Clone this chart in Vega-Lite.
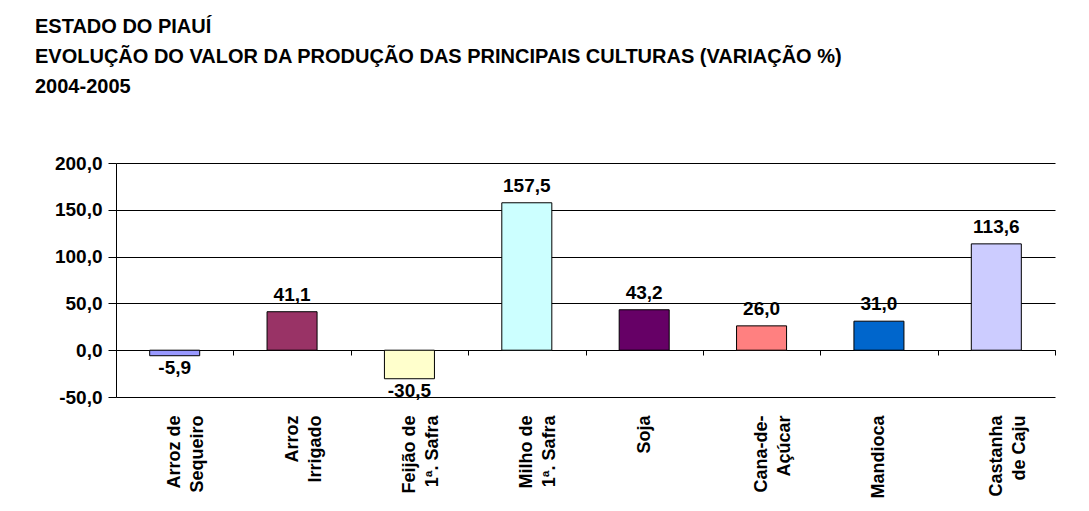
{
  "$schema": "https://vega.github.io/schema/vega-lite/v6.json",
  "width": 939,
  "height": 234,
  "autosize": {"type": "none"},
  "padding": {"left": 116, "top": 163, "right": 34, "bottom": 114},
  "background": "white",
  "title": {
    "text": ["ESTADO DO PIAUÍ", "EVOLUÇÃO DO VALOR DA PRODUÇÃO DAS PRINCIPAIS CULTURAS (VARIAÇÃO %)", "2004-2005"],
    "anchor": "start",
    "frame": "group",
    "dx": -81,
    "offset": 57,
    "fontSize": 20,
    "font": "Liberation Sans",
    "fontWeight": "bold",
    "lineHeight": 30,
    "color": "black"
  },
  "data": {
    "values": [
      {"cultura": "Arroz de|Sequeiro", "v": -5.9},
      {"cultura": "Arroz|Irrigado", "v": 41.1},
      {"cultura": "Feijão de|1ª. Safra", "v": -30.5},
      {"cultura": "Milho de|1ª. Safra", "v": 157.5},
      {"cultura": "Soja", "v": 43.2},
      {"cultura": "Cana-de-|Açúcar", "v": 26.0},
      {"cultura": "Mandioca", "v": 31.0},
      {"cultura": "Castanha|de Caju", "v": 113.6}
    ]
  },
  "encoding": {
    "x": {
      "field": "cultura",
      "type": "nominal",
      "sort": null,
      "scale": {"paddingInner": 0, "paddingOuter": 0},
      "axis": {
        "title": null,
        "orient": "bottom",
        "offset": -47,
        "tickBand": "extent",
        "tickSize": 5,
        "tickColor": "black",
        "domainColor": "black",
        "labelAngle": -90,
        "labelPadding": 60,
        "labelExpr": "split(datum.label, '|')",
        "labelFont": "Liberation Sans",
        "labelFontWeight": "bold",
        "labelFontSize": 18,
        "labelLineHeight": 23,
        "labelColor": "black",
        "grid": false
      }
    },
    "y": {
      "field": "v",
      "type": "quantitative",
      "scale": {"domain": [-50, 200], "nice": false, "zero": false},
      "axis": {
        "title": null,
        "values": [-50, 0, 50, 100, 150, 200],
        "format": ".1f",
        "grid": true,
        "gridColor": "black",
        "gridOpacity": 1,
        "gridWidth": 1,
        "domainColor": "black",
        "tickColor": "black",
        "tickSize": 8,
        "labelPadding": 6,
        "labelFont": "Liberation Sans",
        "labelFontWeight": "bold",
        "labelFontSize": 19,
        "labelColor": "black"
      }
    }
  },
  "layer": [
    {
      "mark": {"type": "bar", "width": {"band": 0.426}, "stroke": "black", "strokeWidth": 1},
      "encoding": {
        "color": {
          "field": "cultura",
          "type": "nominal",
          "legend": null,
          "scale": {
            "domain": ["Arroz de|Sequeiro", "Arroz|Irrigado", "Feijão de|1ª. Safra", "Milho de|1ª. Safra", "Soja", "Cana-de-|Açúcar", "Mandioca", "Castanha|de Caju"],
            "range": ["#9999FF", "#993366", "#FFFFCC", "#CCFFFF", "#660066", "#FF8080", "#0066CC", "#CCCCFF"]
          }
        }
      }
    },
    {
      "transform": [{"filter": "datum.v >= 0"}],
      "mark": {"type": "text", "baseline": "bottom", "dy": -7, "font": "Liberation Sans", "fontWeight": "bold", "fontSize": 19, "color": "black"},
      "encoding": {"text": {"field": "v", "type": "quantitative", "format": ".1f"}}
    },
    {
      "transform": [{"filter": "datum.v < 0"}],
      "mark": {"type": "text", "baseline": "top", "dy": 3, "font": "Liberation Sans", "fontWeight": "bold", "fontSize": 19, "color": "black"},
      "encoding": {"text": {"field": "v", "type": "quantitative", "format": ".1f"}}
    }
  ],
  "config": {
    "locale": {
      "number": {"decimal": ",", "thousands": ".", "grouping": [3], "currency": ["R$", ""], "minus": "-"}
    },
    "view": {"stroke": null}
  }
}
